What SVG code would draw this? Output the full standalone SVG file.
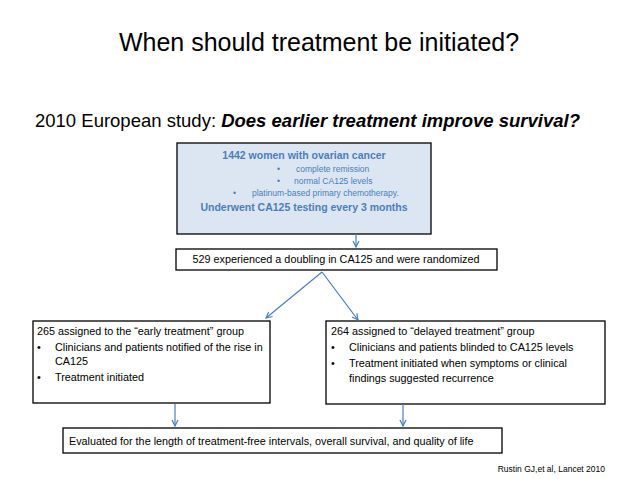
<svg xmlns="http://www.w3.org/2000/svg" width="638" height="479" viewBox="0 0 638 479">
<defs>
<marker id="ah" markerWidth="8" markerHeight="8" refX="7" refY="4" orient="auto" markerUnits="userSpaceOnUse"><path d="M1,1 L7,4 L1,7" fill="none" stroke="#4a7ebb" stroke-width="1.2"/></marker>
</defs>
<style>
text{font-family:"Liberation Sans",Arial,sans-serif;fill:#000}
.box{fill:#fff;stroke:#000;stroke-width:1.3}
.t{font-size:10.8px}
.b{fill:#4a7ebb}
.c{stroke:#4a7ebb;stroke-width:1.2;fill:none;marker-end:url(#ah)}
</style>
<rect width="638" height="479" fill="#fff"/>
<text x="319" y="51" text-anchor="middle" font-size="25">When should treatment be initiated?</text>
<text x="35" y="127" font-size="18.5">2010 European study:  <tspan font-weight="bold" font-style="italic">Does earlier treatment improve survival?</tspan></text>
<g id="top">
<rect x="177" y="143" width="254" height="91" fill="#dce6f2" stroke="#000" stroke-width="1.3"/>
<text class="b" x="304" y="159" text-anchor="middle" font-size="10.5" font-weight="bold">1442 women with ovarian cancer</text>
<text class="b" x="277" y="172" font-size="8.5">•</text><text class="b" x="296" y="172" font-size="8.5">complete remission</text>
<text class="b" x="277" y="184" font-size="8.5">•</text><text class="b" x="294" y="184" font-size="8.5">normal CA125 levels</text>
<text class="b" x="233" y="196" font-size="8.5">•</text><text class="b" x="252" y="196" font-size="8.5">platinum-based primary chemotherapy.</text>
<text class="b" x="304" y="211" text-anchor="middle" font-size="10.5" font-weight="bold">Underwent CA125 testing every 3 months</text>
</g>
<g id="rand">
<rect class="box" x="176" y="249" width="321" height="21"/>
<text class="t" x="336" y="263" text-anchor="middle">529 experienced a doubling in CA125 and were randomized</text>
</g>
<g id="early">
<rect class="box" x="33" y="321" width="237" height="82"/>
<text class="t" x="37" y="335">265 assigned to the “early treatment” group</text>
<text class="t" x="37" y="351">•</text><text class="t" x="55" y="351">Clinicians and patients notified of the rise in</text>
<text class="t" x="55" y="365">CA125</text>
<text class="t" x="37" y="381">•</text><text class="t" x="55" y="381">Treatment initiated</text>
</g>
<g id="delayed">
<rect class="box" x="326" y="321" width="279" height="83"/>
<text class="t" x="331" y="335">264 assigned to “delayed treatment” group</text>
<text class="t" x="331" y="351">•</text><text class="t" x="349" y="351">Clinicians and patients blinded to CA125 levels</text>
<text class="t" x="331" y="367">•</text><text class="t" x="349" y="367">Treatment initiated when symptoms or clinical</text>
<text class="t" x="349" y="382">findings suggested recurrence</text>
</g>
<g id="eval">
<rect class="box" x="63" y="428" width="439" height="25"/>
<text class="t" x="69" y="445">Evaluated for the length of treatment-free intervals, overall survival, and quality of life</text>
</g>
<text x="605" y="472" text-anchor="end" font-size="8.5">Rustin GJ,et al, Lancet 2010</text>
<g id="connectors">
<path class="c" d="M356,234 L356,247"/>
<path class="c" d="M322,272 L266,318"/>
<path class="c" d="M322,272 L358,320"/>
<path class="c" d="M175,404 L175,426"/>
<path class="c" d="M403,404 L403,426"/>
</g>
</svg>
